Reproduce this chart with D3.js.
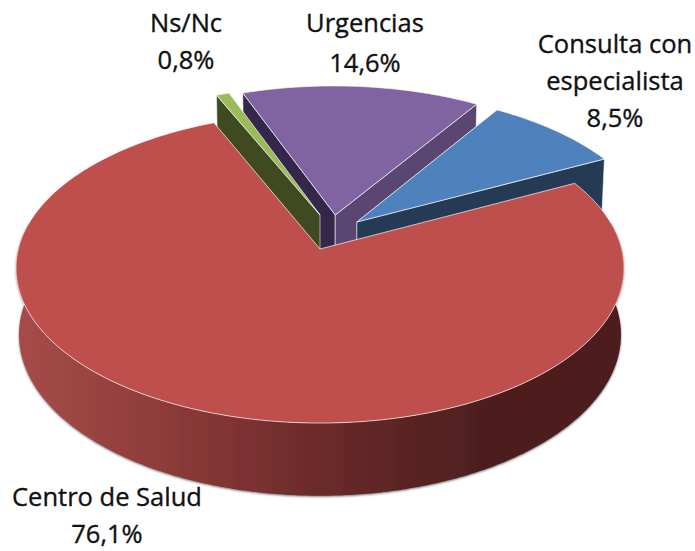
<!DOCTYPE html>
<html><head><meta charset="utf-8">
<script src="https://cdn.jsdelivr.net/npm/d3@7/dist/d3.min.js"></script>
<style>html,body{margin:0;background:#fff}svg{display:block}text{font-family:"Open Sans","Noto Sans",sans-serif;fill:#111;stroke:#111;stroke-width:.35px}</style>
</head><body><svg id="c" width="695" height="551"></svg>
<script>
// Data (clockwise from the Consulta slice)
const categories = ["Consulta con especialista", "Centro de Salud", "Ns/Nc", "Urgencias"];
const values = [8.5, 76.1, 0.8, 14.6];
const valueLabels = ["8,5%", "76,1%", "0,8%", "14,6%"];

// Styling and layout
const topColors = ["#4F81BD", "#BE4F4C", "#9BBB59", "#8064A2"];
const wallStartColors = ["#243A55", "#4e1f1f", "#3F4A23", "#35274A"];
const wallEndColors = ["#243A55", "#4e1f1f", null, "#5A4672"];
const explodeU = [0.125, 0, 0, 0.052];
const explodeV = [0.181, 0, 0.229, 0.229];
const paintOrder = [3, 2, 0, 1];
const labelLines = [["Consulta con", "especialista", valueLabels[0]], ["Centro de Salud", valueLabels[1]], ["Ns/Nc", valueLabels[2]], ["Urgencias", valueLabels[3]]];
const labelX = [615, 107, 186, 365];
const labelY = [[53, 90, 127], [506, 543], [32, 69], [32, 72]];
const labelSize = 25.5;

const k = 0.1226;
const topMap = {x: 320, y: 249, a: 152.7, b: 301.7};
const botMap = {x: 320, y: 315, a: 158.6, b: 298.7};
const project = (m, u, v) => {
  const w = 1 + k * v;
  return [m.x + m.b * u / w, m.y - m.a * v / w];
};
const rad = d => d * Math.PI / 180;

const svg = d3.select("#c");
const defs = svg.append("defs");
const grad = defs.append("linearGradient").attr("id", "wall").attr("gradientUnits", "userSpaceOnUse")
  .attr("x1", 20).attr("x2", 480).attr("y1", 0).attr("y2", 0);
[[0, "#a54c49"], [0.3, "#8f3c3a"], [0.65, "#6b2a2a"], [1, "#4e1f1f"]].forEach(([o, c]) =>
  grad.append("stop").attr("offset", o).attr("stop-color", c));
const sh = defs.append("filter").attr("id", "shadow").attr("x", "-5%").attr("y", "-5%").attr("width", "110%").attr("height", "115%");
sh.append("feDropShadow").attr("dx", 0).attr("dy", 1).attr("stdDeviation", 1.2).attr("flood-color", "#555").attr("flood-opacity", 0.8);

const pie = d3.pie().sort(null).value(d => d).startAngle(rad(32.4)).endAngle(rad(32.4) + 2 * Math.PI);
const arcs = pie(values);
const line = d3.line();

const arcPts = (a0, a1, i, m) => {
  const n = Math.max(2, Math.ceil(Math.abs(a1 - a0) / 0.01));
  return d3.range(n + 1).map(j => {
    const t = a0 + (a1 - a0) * j / n;
    return project(m, Math.sin(t) + explodeU[i], Math.cos(t) + explodeV[i]);
  });
};
const apex = (i, m) => project(m, explodeU[i], explodeV[i]);
const edge = (a, i, m) => project(m, Math.sin(a) + explodeU[i], Math.cos(a) + explodeV[i]);

paintOrder.forEach(i => {
  const d = arcs[i];
  const g = svg.append("g");
  if (i === 1) {
    // cylinder front wall of the large slice
    const front = arcPts(rad(80), rad(280), i, topMap);
    const back = arcPts(rad(280), rad(80), i, botMap);
    g.append("path").attr("d", line(front.concat(back)) + "Z").attr("fill", "url(#wall)").attr("filter", "url(#shadow)");
  } else {
    [[d.startAngle, wallStartColors[i]], [d.endAngle, wallEndColors[i]]].filter(e => e[1]).forEach(([a, col]) => {
      g.append("path")
        .attr("d", line([apex(i, topMap), edge(a, i, topMap), edge(a, i, botMap), apex(i, botMap)]) + "Z")
        .attr("fill", col).attr("stroke", "#fff").attr("stroke-width", 0.7).attr("stroke-opacity", 0.8);
    });
  }
  g.append("path")
    .attr("d", line([apex(i, topMap)].concat(arcPts(d.startAngle, d.endAngle, i, topMap))) + "Z")
    .attr("fill", topColors[i]).attr("stroke", "#fff").attr("stroke-width", 0.9).attr("stroke-opacity", 0.75)
    .attr("stroke-linejoin", "round");
});

categories.forEach((c, i) => {
  labelLines[i].forEach((t, j) => {
    svg.append("text").attr("x", labelX[i]).attr("y", labelY[i][j])
      .attr("text-anchor", "middle").attr("font-size", labelSize).text(t);
  });
});
</script></body></html>
